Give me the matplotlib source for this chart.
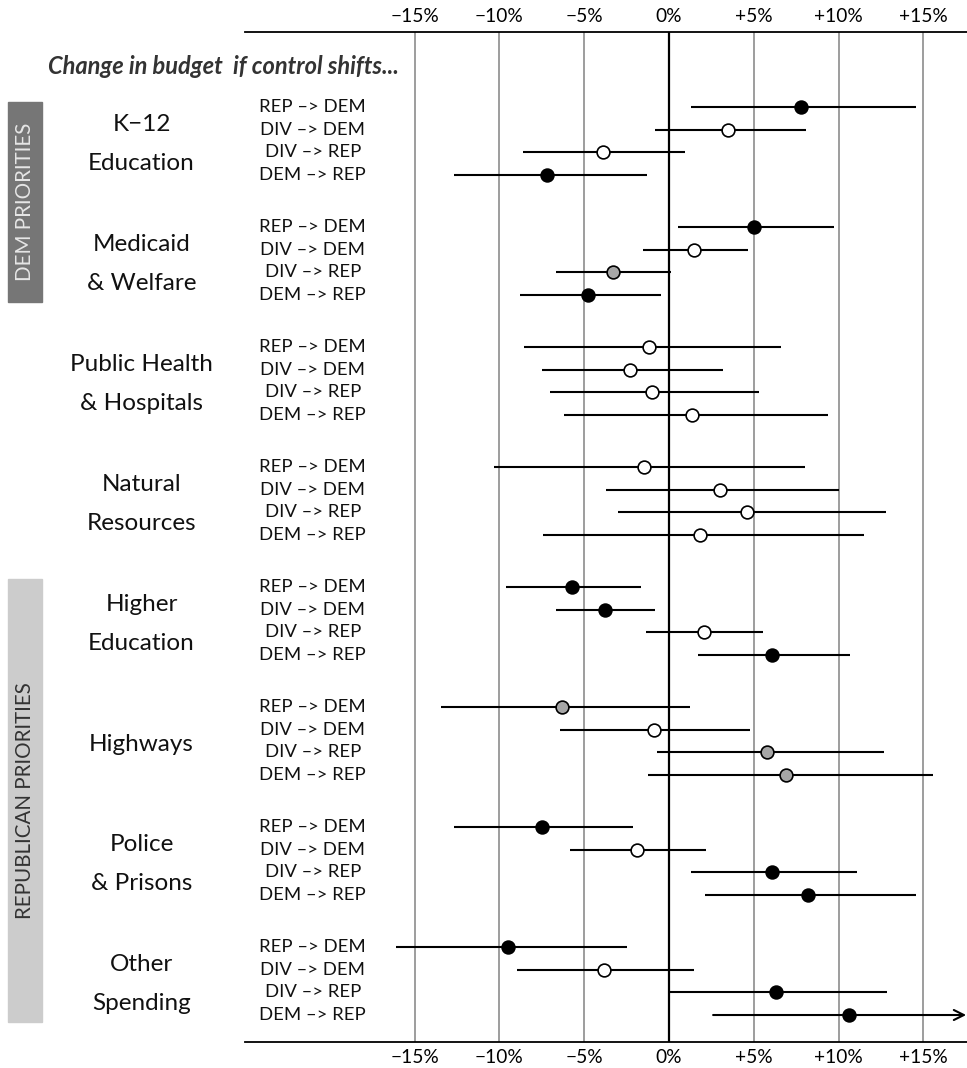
import matplotlib
matplotlib.use("Agg")
import matplotlib.pyplot as plt
from matplotlib.patches import Rectangle

plt.rcParams['font.family'] = ['Lato', 'DejaVu Sans']

categories = ["K\u221212\nEducation", "Medicaid\n& Welfare", "Public Health\n& Hospitals",
              "Natural\nResources", "Higher\nEducation", "Highways",
              "Police\n& Prisons", "Other\nSpending"]
shifts = ["REP \u2013> DEM", "DIV \u2013> DEM", "DIV \u2013> REP", "DEM \u2013> REP"]

# point estimates (% change in budget), per category, per shift
est_k12 = [7.8, 3.5, -3.9, -7.2]
est_med = [5.0, 1.5, -3.3, -4.8]
est_ph = [-1.2, -2.3, -1.0, 1.35]
est_nat = [-1.5, 3.0, 4.6, 1.8]
est_he = [-5.7, -3.8, 2.05, 6.05]
est_hw = [-6.3, -0.9, 5.8, 6.9]
est_pol = [-7.5, -1.9, 6.1, 8.2]
est_oth = [-9.5, -3.85, 6.3, 10.6]

lo_k12 = [1.3, -0.85, -8.6, -12.7]
lo_med = [0.55, -1.55, -6.65, -8.8]
lo_ph = [-8.55, -7.5, -7.0, -6.2]
lo_nat = [-10.3, -3.7, -3.0, -7.4]
lo_he = [-9.6, -6.65, -1.35, 1.7]
lo_hw = [-13.45, -6.4, -0.7, -1.25]
lo_pol = [-12.65, -5.85, 1.3, 2.15]
lo_oth = [-16.1, -8.95, 0.0, 2.6]

hi_k12 = [14.55, 8.05, 0.95, -1.3]
hi_med = [9.7, 4.65, 0.1, -0.5]
hi_ph = [6.6, 3.2, 5.3, 9.4]
hi_nat = [8.0, 10.0, 12.8, 11.5]
hi_he = [-1.65, -0.85, 5.55, 10.65]
hi_hw = [1.25, 4.75, 12.65, 15.55]
hi_pol = [-2.1, 2.2, 11.1, 14.55]
hi_oth = [-2.45, 1.5, 12.85, 20.0]

# marker fill: 'b' significant (black), 'g' marginal (gray), 'w' not significant (white)
fill_k12 = ['b', 'w', 'w', 'b']
fill_med = ['b', 'w', 'g', 'b']
fill_ph = ['w', 'w', 'w', 'w']
fill_nat = ['w', 'w', 'w', 'w']
fill_he = ['b', 'b', 'w', 'b']
fill_hw = ['g', 'w', 'g', 'g']
fill_pol = ['b', 'w', 'b', 'b']
fill_oth = ['b', 'w', 'b', 'b']

ests = [est_k12, est_med, est_ph, est_nat, est_he, est_hw, est_pol, est_oth]
los = [lo_k12, lo_med, lo_ph, lo_nat, lo_he, lo_hw, lo_pol, lo_oth]
his = [hi_k12, hi_med, hi_ph, hi_nat, hi_he, hi_hw, hi_pol, hi_oth]
fills = [fill_k12, fill_med, fill_ph, fill_nat, fill_he, fill_hw, fill_pol, fill_oth]

tick_vals = [-15, -10, -5, 0, 5, 10, 15]
tick_labels = ["\u221215%", "\u221210%", "\u22125%", "0%", "+5%", "+10%", "+15%"]

W, H = 967, 1068
fig = plt.figure(figsize=(W / 100, H / 100), dpi=100)
ax_left, ax_right, ax_top, ax_bot = 245, 967, 32, 1042
ax = fig.add_axes([ax_left / W, 1 - ax_bot / H, (ax_right - ax_left) / W, (ax_bot - ax_top) / H])

px_per_pct = 16.96
x0_px = 669
xmin = (ax_left - x0_px) / px_per_pct
xmax = (ax_right - x0_px) / px_per_pct
row_px = 22.67
group_px = 120.0
first_px = 107
ymin = (ax_top - first_px) / row_px
ymax = (ax_bot - first_px) / row_px
ax.set_xlim(xmin, xmax)
ax.set_ylim(ymax, ymin)

fill_colors = {'b': 'black', 'g': '#a6a6a6', 'w': 'white'}

for t in tick_vals:
    if t == 0:
        ax.axvline(t, color='black', lw=1.6, zorder=1)
    else:
        ax.axvline(t, color='#8c8c8c', lw=1.2, zorder=1)

gstep = group_px / row_px
for g in range(len(categories)):
    yc = g * gstep + 1.5
    for r in range(4):
        y = g * gstep + r
        lo, hi, est = los[g][r], his[g][r], ests[g][r]
        if hi > xmax:
            ax.annotate('', xy=(xmax - 0.05, y), xytext=(lo, y),
                        arrowprops=dict(arrowstyle='->', lw=1.5, color='black',
                                        mutation_scale=18, shrinkA=0, shrinkB=0), zorder=2)
        else:
            ax.plot([lo, hi], [y, y], color='black', lw=1.5, solid_capstyle='butt', zorder=2)
        ax.plot(est, y, 'o', ms=9.2, mfc=fill_colors[fills[g][r]], mec='black', mew=1.2, zorder=3)
        ax.text(-21.0, y, shifts[r], ha='center', va='center', fontsize=13.3, color='#111111')
    ax.text(-31.1, yc + 0.15, categories[g], ha='center', va='center', fontsize=17.5,
            linespacing=2.05, color='#111111')

ax.text(-15.9, (67 - first_px) / row_px, "Change in budget  if control shifts...",
        ha='right', va='center', fontsize=17, fontweight='bold', style='italic',
        color='#333333', clip_on=False)

for s in ['left', 'right']:
    ax.spines[s].set_visible(False)
for s in ['top', 'bottom']:
    ax.spines[s].set_linewidth(1.3)
ax.set_yticks([])
ax.set_xticks(tick_vals)
ax.set_xticklabels(tick_labels, fontsize=13.8)
ax.tick_params(axis='x', length=0, pad=5, top=True, labeltop=True, bottom=True, labelbottom=True)

# priority bands (figure pixel coordinates)
def band(x0, y0, x1, y1, color, text, tcolor, fs):
    fig.patches.append(Rectangle((x0 / W, 1 - y1 / H), (x1 - x0) / W, (y1 - y0) / H,
                                 transform=fig.transFigure, color=color, zorder=0))
    fig.text((x0 + x1) / 2 / W, 1 - (y0 + y1) / 2 / H, text, rotation=90,
             ha='center', va='center', color=tcolor, fontsize=fs)

band(8, 102, 42, 302, '#767676', "DEM PRIORITIES", '#e6e6e6', 14.8)
band(8, 579, 42, 1022, '#cccccc', "REPUBLICAN PRIORITIES", '#333333', 14.8)

fig.savefig('out.png', dpi=100)
